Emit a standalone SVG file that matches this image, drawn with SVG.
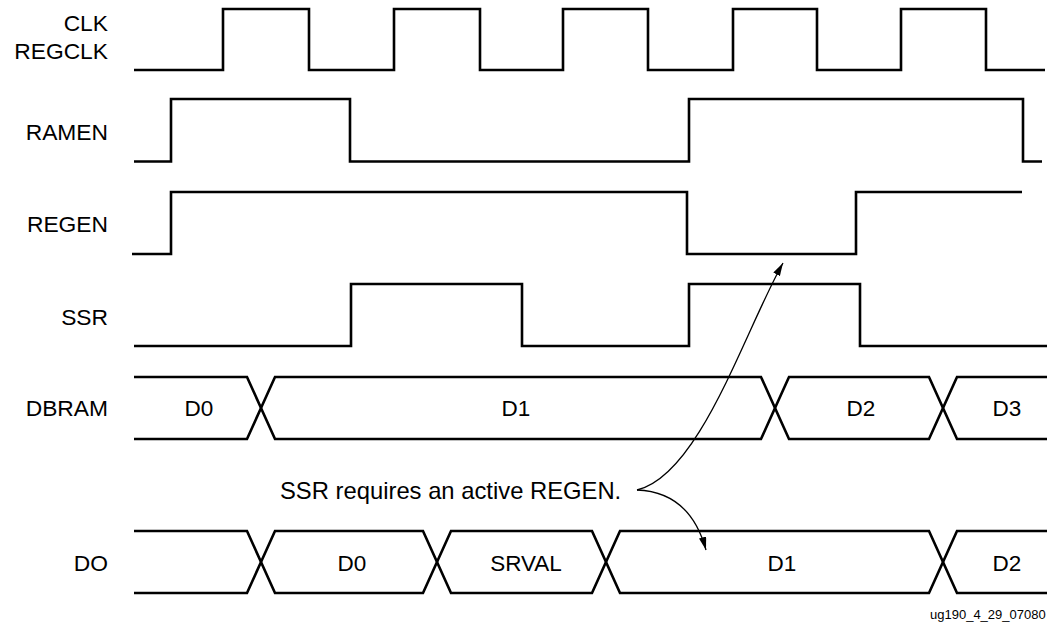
<svg xmlns="http://www.w3.org/2000/svg" width="1047" height="625" viewBox="0 0 1047 625">
<style>
.wave{fill:none;stroke:#000;stroke-width:2.6;stroke-linejoin:miter;stroke-linecap:butt}
.lbl{font-family:"Liberation Sans",Arial,Helvetica,sans-serif;font-size:22.8px;fill:#000;text-anchor:end}
.val{font-family:"Liberation Sans",Arial,Helvetica,sans-serif;font-size:22.5px;fill:#000;text-anchor:middle}
.note{font-family:"Liberation Sans",Arial,Helvetica,sans-serif;font-size:23.8px;fill:#000}
.tag{font-family:"Liberation Sans",Arial,Helvetica,sans-serif;font-size:13px;fill:#000}
.conn{fill:none;stroke:#000;stroke-width:1.3}
</style>
<defs>
<marker id="arr" markerUnits="userSpaceOnUse" markerWidth="14" markerHeight="8" refX="13" refY="3.75" orient="auto">
<path d="M0,0 L13,3.75 L0,7.5 Z" fill="#000"/>
</marker>
</defs>
<rect x="0" y="0" width="1047" height="625" fill="#fff"/>

<g id="clk">
<text class="lbl" x="108" y="30.5">CLK</text>
<text class="lbl" x="108" y="59">REGCLK</text>
<path class="wave" d="M134,70 H223 V9 H309 V70 H394 V9 H480 V70 H563 V9 H648 V70 H733 V9 H817 V70 H901 V9 H986 V70 H1045"/>
</g>

<g id="ramen">
<text class="lbl" x="108" y="140">RAMEN</text>
<path class="wave" d="M134,161.5 H171 V99 H350 V161.5 H689 V99 H1023 V161.5 H1042"/>
</g>

<g id="regen">
<text class="lbl" x="108" y="232">REGEN</text>
<path class="wave" d="M132,254 H171 V192 H687 V254 H856 V192 H1022"/>
</g>

<g id="ssr">
<text class="lbl" x="108" y="325">SSR</text>
<path class="wave" d="M134,346 H351 V284 H522 V346 H689 V284 H860 V346 H1047"/>
</g>

<g id="dbram">
<text class="lbl" x="108" y="416">DBRAM</text>
<path class="wave" d="M134,377 H247 L261,408 L247,439 H134"/>
<path class="wave" d="M261,408 L275,377 H761 L775,408 L761,439 H275 Z"/>
<path class="wave" d="M775,408 L789,377 H929 L943,408 L929,439 H789 Z"/>
<path class="wave" d="M1047,377 H957 L943,408 L957,439 H1047"/>
<text class="val" x="199" y="416">D0</text>
<text class="val" x="516" y="416">D1</text>
<text class="val" x="861" y="416">D2</text>
<text class="val" x="1007" y="416">D3</text>
</g>

<g id="do">
<text class="lbl" x="108" y="571">DO</text>
<path class="wave" d="M134,531 H247 L261,562 L247,593 H134"/>
<path class="wave" d="M261,562 L275,531 H423 L437,562 L423,593 H275 Z"/>
<path class="wave" d="M437,562 L451,531 H592 L606,562 L592,593 H451 Z"/>
<path class="wave" d="M606,562 L620,531 H929 L943,562 L929,593 H620 Z"/>
<path class="wave" d="M1047,531 H957 L943,562 L957,593 H1047"/>
<text class="val" x="352" y="571">D0</text>
<text class="val" x="526" y="571">SRVAL</text>
<text class="val" x="782" y="571">D1</text>
<text class="val" x="1007" y="571">D2</text>
</g>

<g id="note">
<text class="note" x="280" y="499">SSR requires an active REGEN.</text>
</g>

<g id="connectors">
<path class="conn" d="M637,490 C700,475 745,330 783,263" marker-end="url(#arr)"/>
<path class="conn" d="M637,490 Q690,492 706,550" marker-end="url(#arr)"/>
</g>

<text class="tag" x="930" y="619">ug190_4_29_07080</text>
</svg>
